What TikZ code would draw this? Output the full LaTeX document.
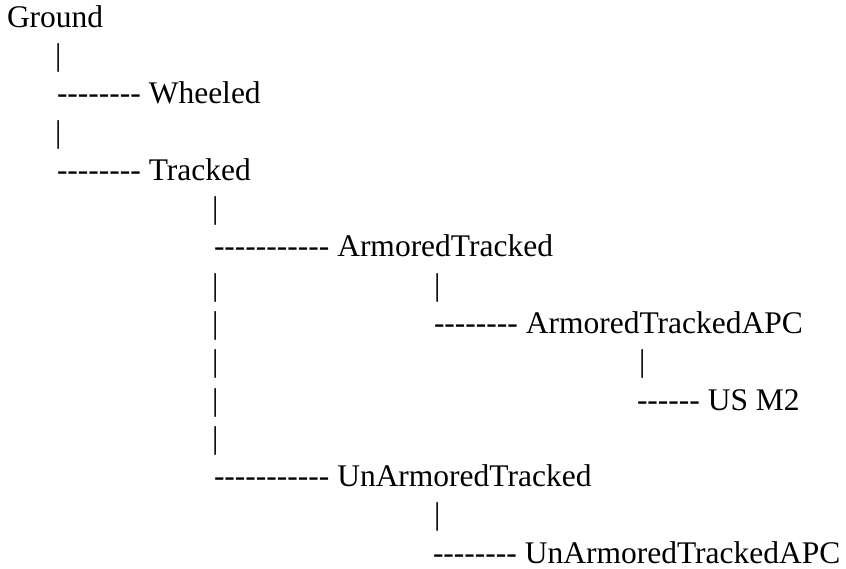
\documentclass[tikz,border=0pt]{standalone}
\usepackage{fontspec}
\newfontfamily\treefont{Liberation Serif}
\begin{document}
\begin{tikzpicture}[x=1pt,y=-1pt,
  lbl/.style={anchor=base west,inner sep=0pt,outer sep=0pt,font=\treefont\fontsize{31.5}{38}\selectfont}]
\useasboundingbox (0,0) rectangle (846,569);
% row baselines: 27.5 + 38.25*i
\node[lbl] (ground) at (7,27.5) {Ground};
\node[lbl] (b1) at (55,65.75) {|};
\node[lbl] (wheeled) at (57,104) {-------- Wheeled};
\node[lbl] (b2) at (55,142.25) {|};
\node[lbl] (tracked) at (57,180.5) {-------- Tracked};
\node[lbl] (b3) at (212,218.75) {|};
\node[lbl] (armt) at (214,257) {----------- ArmoredTracked};
\node[lbl] (b4) at (212,295.25) {|};
\node[lbl] (b5) at (434,295.25) {|};
\node[lbl] (b6) at (212,333.5) {|};
\node[lbl] (armapc) at (434,333.5) {-------- ArmoredTrackedAPC};
\node[lbl] (b7) at (212,371.75) {|};
\node[lbl] (b8) at (639,371.75) {|};
\node[lbl] (b9) at (212,410) {|};
\node[lbl] (usm2) at (637,410) {------ US M2};
\node[lbl] (b10) at (212,448.25) {|};
\node[lbl] (unarmt) at (214,486.5) {----------- UnArmoredTracked};
\node[lbl] (b11) at (434,524.75) {|};
\node[lbl,text depth=0pt] (unarmapc) at (433,563) {-------- UnArmoredTrackedAPC};
\end{tikzpicture}
\end{document}
